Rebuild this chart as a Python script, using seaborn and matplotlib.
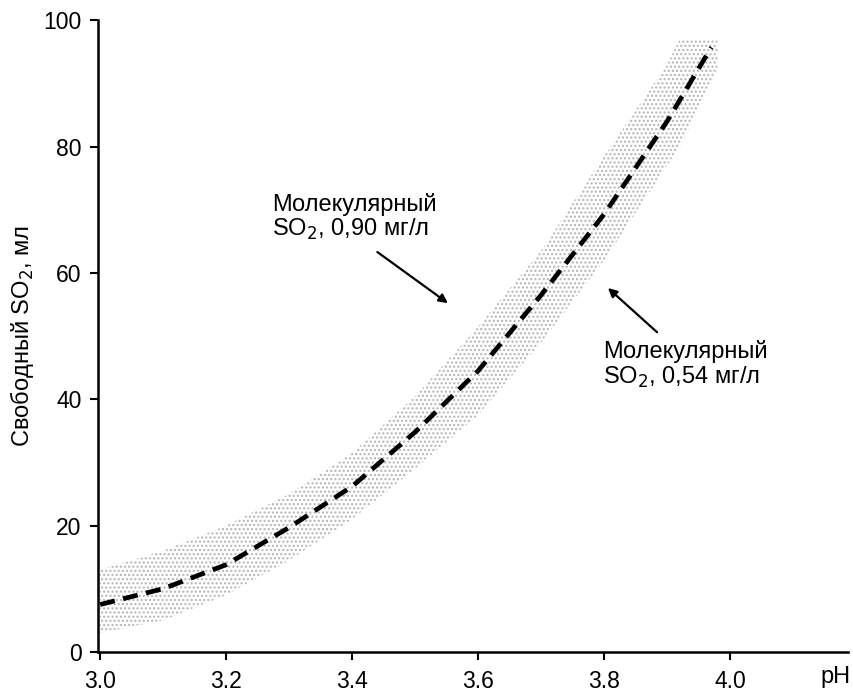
import numpy as np
import pandas as pd
import matplotlib
matplotlib.use("Agg")
import matplotlib.pyplot as plt
import seaborn as sns

# dashed curve
ph = [3.0, 3.1, 3.2, 3.3, 3.4, 3.5, 3.6, 3.7, 3.8, 3.9, 3.97]
free_so2 = [7.5, 10.0, 13.8, 19.7, 26.2, 34.8, 44.5, 56.5, 69.3, 84.0, 95.7]

# stippled band between molecular SO2 0,54 and 0,90 mg/l
band_ph = [3.0, 3.1, 3.2, 3.3, 3.4, 3.5, 3.6, 3.7, 3.8, 3.9, 3.92, 3.98]
band_upper = [13, 16, 20, 25, 31.5, 40.5, 51.5, 63.5, 78.5, 93, 97, 97]
band_lower = [3, 5, 9, 14.5, 21, 29, 37.5, 49, 62, 77, 80, 92]

xticks = [3.0, 3.2, 3.4, 3.6, 3.8, 4.0]
yticks = [0, 20, 40, 60, 80, 100]

sns.set_style("ticks")
plt.rcParams['font.family'] = ['Liberation Sans', 'DejaVu Sans']
plt.rcParams['hatch.linewidth'] = 1.0
plt.rcParams['text.color'] = 'black'

fig = plt.figure(figsize=(8.54, 6.95), dpi=100)
ax = fig.add_axes([0.115, 0.062, 0.878, 0.909])

ax.fill_between(band_ph, band_lower, band_upper, facecolor='none',
                hatch='....', edgecolor='#b3b3b3', linewidth=0)

df = pd.DataFrame({'pH': ph, 'SO2': free_so2})
sns.lineplot(data=df, x='pH', y='SO2', ax=ax, color='black', linewidth=3.4,
             dashes=False, zorder=3)
ax.lines[-1].set_dashes((3.2, 1.8))

ax.set_xlim(2.997, 4.187)
ax.set_ylim(0, 100)
ax.set_xticks(xticks)
ax.set_xticklabels(['3.0', '3.2', '3.4', '3.6', '3.8', '4.0'])
ax.set_yticks(yticks)
ax.tick_params(axis='both', direction='out', length=6, width=1.5, labelsize=16.5, colors='black')
ax.tick_params(axis='x', pad=7)
ax.tick_params(axis='y', pad=6)
for s in ['left', 'bottom']:
    ax.spines[s].set_linewidth(1.8)
    ax.spines[s].set_color('black')
sns.despine(ax=ax)

ax.set_xlabel('')
ax.set_ylabel('Свободный SO$_2$, мл', fontsize=17, labelpad=5, color='black')
ax.text(1.003, -0.022, 'pH', transform=ax.transAxes, ha='right', va='top',
        fontsize=17, color='black')

txt = dict(fontsize=17, linespacing=1.05, color='black')
arrow = dict(arrowstyle='-|>', color='black', lw=1.6, shrinkA=0, shrinkB=0, mutation_scale=13)
ax.text(3.273, 72.6, 'Молекулярный\nSO$_2$, 0,90 мг/л', ha='left', va='top', **txt)
ax.annotate('', xy=(3.552, 55.2), xytext=(3.440, 63.3), arrowprops=arrow)
ax.annotate('', xy=(3.806, 57.6), xytext=(3.884, 50.6), arrowprops=arrow)
ax.text(3.798, 49.3, 'Молекулярный\nSO$_2$, 0,54 мг/л', ha='left', va='top', **txt)

fig.savefig('out.png', dpi=100)
